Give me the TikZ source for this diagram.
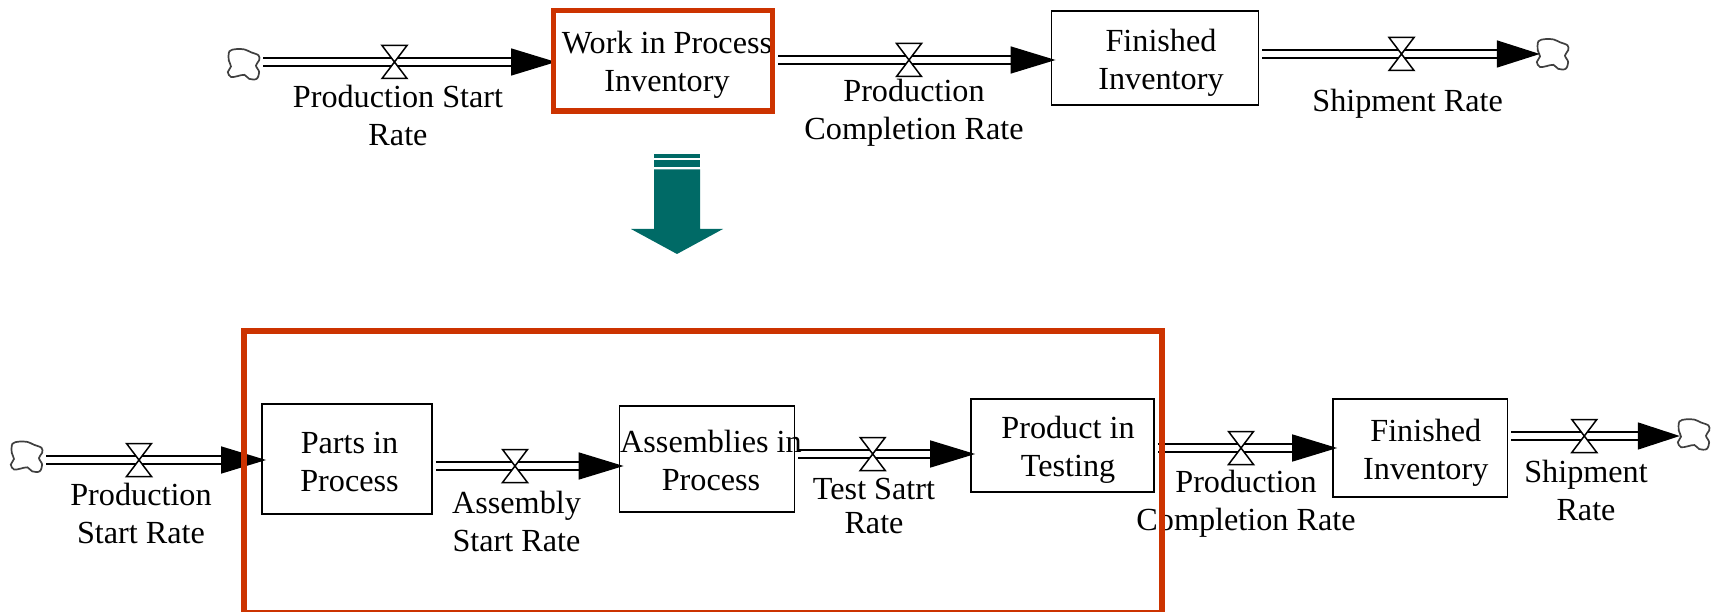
\documentclass[tikz,border=0pt]{standalone}
\usepackage{fontspec}
\setmainfont{Liberation Serif}
\usetikzlibrary{arrows.meta,calc}
\definecolor{boxred}{HTML}{CC3300}
\definecolor{teal}{HTML}{006A66}
\tikzset{
  lab/.style={font=\fontsize{32.2}{38}\selectfont,align=center,anchor=base,inner sep=0pt,text=black},
  stock/.style={draw=black,line width=1.7pt,inner sep=0pt},
  focus/.style={draw=boxred,line width=5.4pt,inner sep=0pt},
  cloudspot/.style={inner sep=0pt,minimum width=32pt,minimum height=31pt},
  cloudline/.style={draw=black!75,line width=1.7pt,fill=white,x=32pt,y=-31pt},
  valvespot/.style={inner sep=0pt,outer sep=0pt,minimum width=25pt,minimum height=33pt},
  valveline/.style={draw=black,line width=1.5pt,fill=white,line join=miter},
  pipe/.style={line width=1.6pt,double=white,double distance=6.4pt,shorten <=3pt,shorten >=-5pt,
    -{Triangle[length=45pt,width=27pt,fill=black]}}
}
\newcommand{\flow}[4][]{%
  \draw[pipe,#1] (#2.east |- #4) -- (#3.west |- #4);
  \draw[valveline] (#4.north west) -- (#4.north east) -- (#4.south west) -- (#4.south east) -- cycle;
}
\newcommand{\cloudat}[1]{%
  \begin{scope}[shift={(#1.north west)}]
  \draw[cloudline] plot[smooth cycle,tension=0.55] coordinates {
   (.05,.08) (.26,.01) (.52,.02) (.72,.11) (.96,.21) (.98,.37) (.88,.54) (.98,.75)
   (.90,.97) (.67,.97) (.52,.84) (.31,.88) (.10,.91) (0,.75) (.10,.57) (.03,.37)};
  \end{scope}}
\begin{document}
\begin{tikzpicture}[x=1pt,y=-1pt]
\useasboundingbox (0,0) rectangle (1719,612);

% top row
\node[cloudspot] (c1) at (244,64.5) {};
\node[stock,draw=none,minimum width=218.8pt,minimum height=100.3pt,line width=5.4pt] (wip) at (663.1,60.85) {};
\node[stock,minimum width=207.2pt,minimum height=94.3pt] (fin1) at (1155,57.9) {};
\node[cloudspot] (c2) at (1553,54.5) {};
\node[valvespot] (v1) at (394.5,62) {};
\node[valvespot] (v2) at (909,60) {};
\node[valvespot] (v3) at (1401.5,54) {};
\cloudat{c1}\cloudat{c2}
\flow{c1}{wip}{v1}
\flow{wip}{fin1}{v2}
\flow[shorten >=-3pt,-{Triangle[length=43pt,width=27pt,fill=black]}]{fin1}{c2}{v3}

\node[lab] (t1) at (398,146) {Production Start\\Rate};
\node[lab] (t2) at (667,92) {Work in Process\\Inventory};
\node[lab] (t3) at (914,140) {Production\\Completion Rate};
\node[lab] (t4) at (1161,90) {Finished\\Inventory};
\node[lab] (t5) at (1407.6,112) {Shipment Rate};

% block arrow
\fill[teal] (654,154) rectangle (700,158);
\fill[teal] (654,160) rectangle (700,167);
\fill[teal] (654,169.5) -- (700,169.5) -- (700,229) -- (723,229) -- (677,254) -- (631,229) -- (654,229) -- cycle;

% bottom row
\node[cloudspot] (c3) at (27,457) {};
\node[stock,minimum width=170pt,minimum height=110pt] (parts) at (346.9,459) {};
\node[stock,minimum width=175pt,minimum height=106pt] (asm) at (707,459) {};
\node[stock,minimum width=183pt,minimum height=93pt] (test) at (1062.5,445.5) {};
\node[stock,minimum width=174.4pt,minimum height=98pt] (fin2) at (1420.2,448) {};
\node[cloudspot] (c4) at (1694,434.7) {};
\node[valvespot] (v4) at (139,460) {};
\node[valvespot] (v5) at (515,466) {};
\node[valvespot] (v6) at (872.7,454) {};
\node[valvespot] (v7) at (1241,448) {};
\node[valvespot] (v8) at (1584.3,436) {};
\cloudat{c3}\cloudat{c4}
\flow{c3}{parts}{v4}
\flow{parts}{asm}{v5}
\flow{asm}{test}{v6}
\flow{test}{fin2}{v7}
\flow[shorten >=-2pt,-{Triangle[length=42pt,width=27pt,fill=black]}]{fin2}{c4}{v8}

\node[lab] (t6) at (141,543) {Production\\Start Rate};
\node[lab] (t7) at (349.5,491) {Parts in\\Process};
\node[lab] (t8) at (516.5,551) {Assembly\\Start Rate};
\node[lab] (t9) at (711,490.7) {Assemblies in\\Process};
\node[lab] (t10) at (874,533) {Test Satrt\\[-4pt]Rate};
\node[lab] (t11) at (1068,476.7) {Product in\\Testing};
\node[lab] (t12) at (1246,530.7) {Production\\Completion Rate};
\node[lab] (t13) at (1425.8,479) {Finished\\Inventory};
\node[lab] (t14) at (1586,520.7) {Shipment\\Rate};

% red frames on top
\node[focus,minimum width=218.8pt,minimum height=100.3pt] (wipframe) at (wip) {};
\node[focus,minimum width=918pt,minimum height=281.7pt] (frame) at (703,471.85) {};
\end{tikzpicture}
\end{document}
